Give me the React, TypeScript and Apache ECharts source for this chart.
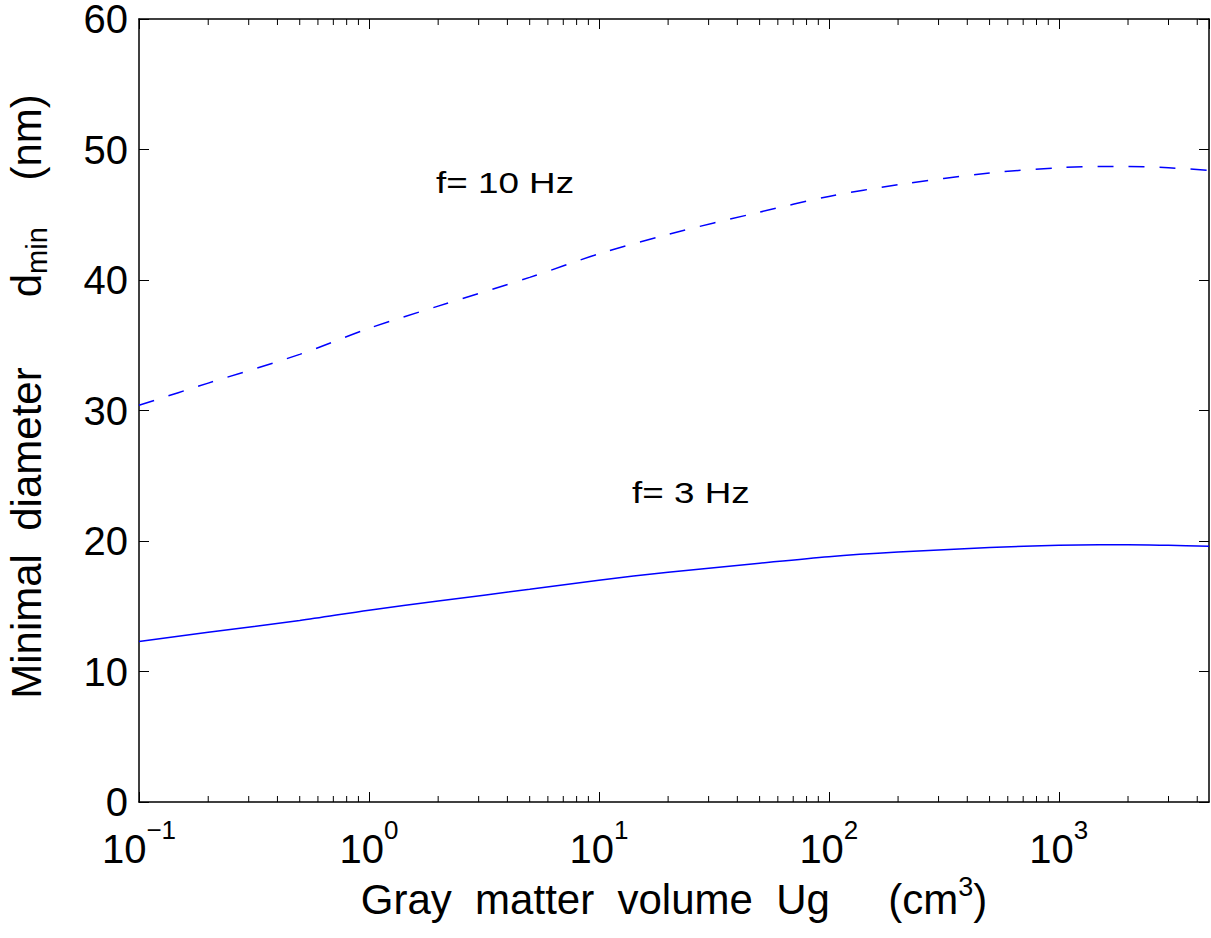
import React, { useEffect, useRef } from "react";
import * as echarts from "echarts";

const FONT = "'Liberation Sans', Arial, Helvetica, sans-serif";

// Gray matter volume Ug (cm^3)
const volumes = [0.1, 0.2, 0.5, 1, 2, 5, 10, 20, 50, 100, 200, 500, 1000, 1500, 2000, 3000, 4500];
// Minimal diameter (nm), f = 3 Hz (solid)
const dmin3Hz = [12.3, 13.0, 13.9, 14.7, 15.4, 16.3, 17.0, 17.6, 18.3, 18.8, 19.15, 19.5, 19.68, 19.72, 19.72, 19.67, 19.6];
// Minimal diameter (nm), f = 10 Hz (dashed)
const dmin10Hz = [30.4, 32.1, 34.3, 36.3, 38.0, 40.2, 42.0, 43.5, 45.2, 46.4, 47.3, 48.2, 48.6, 48.7, 48.7, 48.6, 48.4];

const xMin = 0.1;
const xMax = 4500;
const yMin = 0;
const yMax = 60;
const yStep = 10;

// minor log ticks (2..9 x 10^k) inside the axis range
const minorTicks: number[] = [];
for (let e = -1; e <= 3; e++) {
  for (let m = 2; m <= 9; m++) {
    const v = m * Math.pow(10, e);
    if (v < xMax) minorTicks.push(v);
  }
}

const annotations = [
  { text: "f= 10 Hz", x: 436, y: 183 },
  { text: "f= 3 Hz", x: 632, y: 493 },
];

export default function App() {
  const ref = useRef<HTMLDivElement>(null);
  useEffect(() => {
    if (!ref.current) return;
    const chart = echarts.init(ref.current, null, { renderer: "svg" });

    const expLabel = (v: number) => {
      const lg = Math.log10(v);
      const e = Math.round(lg);
      if (Math.abs(lg - e) > 1e-6) return "";
      const es = e < 0 ? "\u2212" + String(-e) : String(e);
      return "{b|10}{s|" + es + "}";
    };

    const tickRich = {
      b: { fontSize: 40, lineHeight: 64, fontFamily: FONT, color: "#000" },
      s: { fontSize: 26, lineHeight: 24, verticalAlign: "top", fontFamily: FONT, color: "#000" },
    };

    const option: any = {
      animation: false,
      backgroundColor: "#fff",
      grid: {
        left: 139,
        right: 2,
        top: 19,
        bottom: 136,
        containLabel: false,
        outerBoundsMode: "none",
      },
      xAxis: [
        {
          type: "log",
          logBase: 10,
          min: xMin,
          max: xMax,
          position: "bottom",
          axisLine: { show: true, onZero: false, lineStyle: { color: "#000", width: 1.5 } },
          axisTick: { show: true, inside: true, length: 10, lineStyle: { color: "#000", width: 1 } },
          splitLine: { show: false },
          minorTick: { show: false },
          axisLabel: {
            show: true,
            margin: 15,
            formatter: expLabel,
            rich: tickRich,
            showMaxLabel: false,
          },
          name: "{b|Gray  matter  volume  Ug     (cm}{s|3}{b|)}",
          nameLocation: "middle",
          nameGap: 29,
          nameTextStyle: {
            rich: {
              b: { fontSize: 42, lineHeight: 52, fontFamily: FONT, color: "#000" },
              s: { fontSize: 27, lineHeight: 22, verticalAlign: "top", fontFamily: FONT, color: "#000" },
            },
          },
        },
        {
          type: "log",
          logBase: 10,
          min: xMin,
          max: xMax,
          position: "top",
          axisLine: { show: true, onZero: false, lineStyle: { color: "#000", width: 1.5 } },
          axisTick: { show: true, inside: true, length: 10, lineStyle: { color: "#000", width: 1 } },
          splitLine: { show: false },
          axisLabel: { show: false },
        },
      ],
      yAxis: [
        {
          type: "value",
          min: yMin,
          max: yMax,
          interval: yStep,
          position: "left",
          axisLine: { show: true, onZero: false, lineStyle: { color: "#000", width: 1.5 } },
          axisTick: { show: true, inside: true, length: 10, lineStyle: { color: "#000", width: 1 } },
          splitLine: { show: false },
          axisLabel: { show: true, margin: 11, fontSize: 40, lineHeight: 36, fontFamily: FONT, color: "#000" },
          name: "{b|Minimal  diameter      d}{s|min}{b|    (nm)}",
          nameLocation: "middle",
          nameRotate: 90,
          nameGap: 88,
          nameTextStyle: {
            padding: [0, 0, 0, 28],
            rich: {
              b: { fontSize: 42, lineHeight: 50, fontFamily: FONT, color: "#000" },
              s: { fontSize: 29, lineHeight: 22, verticalAlign: "bottom", fontFamily: FONT, color: "#000" },
            },
          },
        },
        {
          type: "value",
          min: yMin,
          max: yMax,
          interval: yStep,
          position: "right",
          axisLine: { show: true, onZero: false, lineStyle: { color: "#000", width: 1.5 } },
          axisTick: { show: true, inside: true, length: 10, lineStyle: { color: "#000", width: 1 } },
          splitLine: { show: false },
          axisLabel: { show: false },
        },
      ],
      graphic: annotations.map((a) => ({
        type: "text",
        x: a.x,
        y: a.y,
        scaleX: 1.27,
        style: {
          text: a.text,
          fontSize: 29,
          fontFamily: FONT,
          fill: "#000",
          align: "left",
          verticalAlign: "middle",
        },
      })),
      series: [
        {
          name: "f= 10 Hz",
          type: "line",
          xAxisIndex: 0,
          yAxisIndex: 0,
          data: volumes.map((v, i) => [v, dmin10Hz[i]]),
          showSymbol: false,
          smooth: 0.3,
          lineStyle: { color: "#0000ff", width: 1.5, type: [16, 15] },
          z: 3,
        },
        {
          name: "f= 3 Hz",
          type: "line",
          xAxisIndex: 0,
          yAxisIndex: 0,
          data: volumes.map((v, i) => [v, dmin3Hz[i]]),
          showSymbol: false,
          smooth: 0.3,
          lineStyle: { color: "#0000ff", width: 1.5, type: "solid" },
          z: 3,
        },
        {
          type: "custom",
          xAxisIndex: 0,
          yAxisIndex: 0,
          data: minorTicks.map((v) => [v, yMin]),
          encode: { x: 0, y: 1 },
          silent: true,
          clip: false,
          renderItem: (params: any, api: any) => {
            const v = api.value(0);
            const b = api.coord([v, yMin]);
            const t = api.coord([v, yMax]);
            const st = { stroke: "#000", lineWidth: 1 };
            return {
              type: "group",
              children: [
                { type: "line", shape: { x1: b[0], y1: b[1], x2: b[0], y2: b[1] - 6 }, style: st },
                { type: "line", shape: { x1: t[0], y1: t[1], x2: t[0], y2: t[1] + 6 }, style: st },
              ],
            };
          },
          z: 2,
        },
      ],
    };
    chart.setOption(option);
    return () => chart.dispose();
  }, []);

  return (
    <div
      ref={ref}
      style={{ position: "fixed", left: 0, top: 0, width: 1211, height: 938, background: "#fff" }}
    />
  );
}
